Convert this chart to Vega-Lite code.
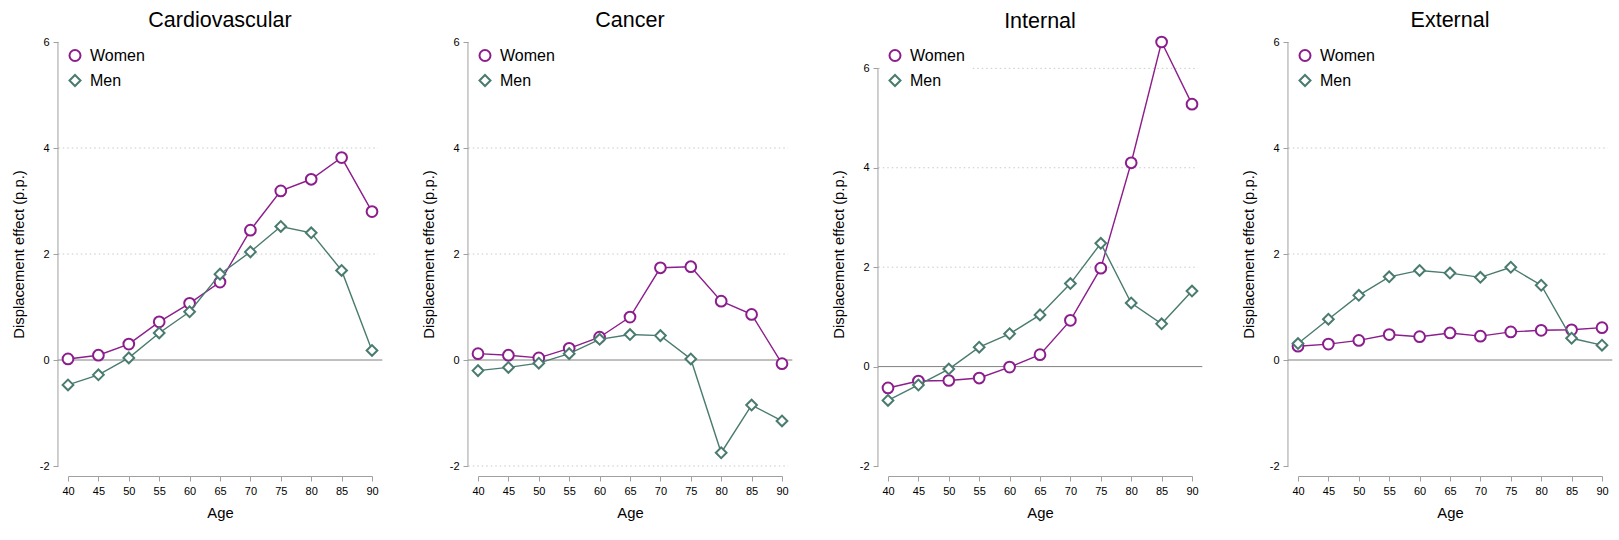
{
  "$schema": "https://vega.github.io/schema/vega-lite/v6.json",
  "padding": {"left": 11, "top": 10, "right": 5, "bottom": 5},
  "background": "white",
  "bounds": "flush",
  "config": {
    "font": "Liberation Sans",
    "view": {"stroke": null},
    "concat": {"spacing": 106},
    "title": {"fontSize": 21.5, "fontWeight": "normal", "color": "black", "frame": "group", "anchor": "middle", "baseline": "alphabetic", "offset": 4.5},
    "axis": {"grid": false, "labelFontSize": 11, "labelColor": "black", "labelOverlap": false, "labelExpr": "'' + datum.value", "titleFontSize": 14.8, "titleFontWeight": "normal", "titleColor": "black", "tickColor": "#a0a0a0", "domainColor": "#a0a0a0", "tickSize": 5, "offset": 10},
    "axisX": {"labelOverlap": false, "labelBound": false, "labelFlush": false},
    "legend": {"title": null, "orient": "none", "legendX": -8, "legendY": -1.5, "labelFontSize": 16, "labelColor": "black", "symbolSize": 121, "symbolStrokeWidth": 2, "symbolFillColor": "white", "rowPadding": 5, "labelOffset": 7, "padding": 7, "fillColor": "white"}
  },
  "datasets": {
    "effects": [
      {"cause": "Cardiovascular", "sex": "Women", "age": 40, "effect": 0.02},
      {"cause": "Cardiovascular", "sex": "Women", "age": 45, "effect": 0.09},
      {"cause": "Cardiovascular", "sex": "Women", "age": 50, "effect": 0.30},
      {"cause": "Cardiovascular", "sex": "Women", "age": 55, "effect": 0.72},
      {"cause": "Cardiovascular", "sex": "Women", "age": 60, "effect": 1.07},
      {"cause": "Cardiovascular", "sex": "Women", "age": 65, "effect": 1.47},
      {"cause": "Cardiovascular", "sex": "Women", "age": 70, "effect": 2.45},
      {"cause": "Cardiovascular", "sex": "Women", "age": 75, "effect": 3.19},
      {"cause": "Cardiovascular", "sex": "Women", "age": 80, "effect": 3.41},
      {"cause": "Cardiovascular", "sex": "Women", "age": 85, "effect": 3.82},
      {"cause": "Cardiovascular", "sex": "Women", "age": 90, "effect": 2.80},
      {"cause": "Cardiovascular", "sex": "Men", "age": 40, "effect": -0.47},
      {"cause": "Cardiovascular", "sex": "Men", "age": 45, "effect": -0.28},
      {"cause": "Cardiovascular", "sex": "Men", "age": 50, "effect": 0.04},
      {"cause": "Cardiovascular", "sex": "Men", "age": 55, "effect": 0.51},
      {"cause": "Cardiovascular", "sex": "Men", "age": 60, "effect": 0.91},
      {"cause": "Cardiovascular", "sex": "Men", "age": 65, "effect": 1.62},
      {"cause": "Cardiovascular", "sex": "Men", "age": 70, "effect": 2.04},
      {"cause": "Cardiovascular", "sex": "Men", "age": 75, "effect": 2.52},
      {"cause": "Cardiovascular", "sex": "Men", "age": 80, "effect": 2.40},
      {"cause": "Cardiovascular", "sex": "Men", "age": 85, "effect": 1.69},
      {"cause": "Cardiovascular", "sex": "Men", "age": 90, "effect": 0.18},
      {"cause": "Cancer", "sex": "Women", "age": 40, "effect": 0.12},
      {"cause": "Cancer", "sex": "Women", "age": 45, "effect": 0.09},
      {"cause": "Cancer", "sex": "Women", "age": 50, "effect": 0.04},
      {"cause": "Cancer", "sex": "Women", "age": 55, "effect": 0.22},
      {"cause": "Cancer", "sex": "Women", "age": 60, "effect": 0.43},
      {"cause": "Cancer", "sex": "Women", "age": 65, "effect": 0.81},
      {"cause": "Cancer", "sex": "Women", "age": 70, "effect": 1.74},
      {"cause": "Cancer", "sex": "Women", "age": 75, "effect": 1.76},
      {"cause": "Cancer", "sex": "Women", "age": 80, "effect": 1.11},
      {"cause": "Cancer", "sex": "Women", "age": 85, "effect": 0.86},
      {"cause": "Cancer", "sex": "Women", "age": 90, "effect": -0.07},
      {"cause": "Cancer", "sex": "Men", "age": 40, "effect": -0.20},
      {"cause": "Cancer", "sex": "Men", "age": 45, "effect": -0.14},
      {"cause": "Cancer", "sex": "Men", "age": 50, "effect": -0.06},
      {"cause": "Cancer", "sex": "Men", "age": 55, "effect": 0.12},
      {"cause": "Cancer", "sex": "Men", "age": 60, "effect": 0.39},
      {"cause": "Cancer", "sex": "Men", "age": 65, "effect": 0.48},
      {"cause": "Cancer", "sex": "Men", "age": 70, "effect": 0.46},
      {"cause": "Cancer", "sex": "Men", "age": 75, "effect": 0.02},
      {"cause": "Cancer", "sex": "Men", "age": 80, "effect": -1.75},
      {"cause": "Cancer", "sex": "Men", "age": 85, "effect": -0.85},
      {"cause": "Cancer", "sex": "Men", "age": 90, "effect": -1.15},
      {"cause": "Internal", "sex": "Women", "age": 40, "effect": -0.43},
      {"cause": "Internal", "sex": "Women", "age": 45, "effect": -0.29},
      {"cause": "Internal", "sex": "Women", "age": 50, "effect": -0.28},
      {"cause": "Internal", "sex": "Women", "age": 55, "effect": -0.23},
      {"cause": "Internal", "sex": "Women", "age": 60, "effect": -0.01},
      {"cause": "Internal", "sex": "Women", "age": 65, "effect": 0.24},
      {"cause": "Internal", "sex": "Women", "age": 70, "effect": 0.93},
      {"cause": "Internal", "sex": "Women", "age": 75, "effect": 1.98},
      {"cause": "Internal", "sex": "Women", "age": 80, "effect": 4.10},
      {"cause": "Internal", "sex": "Women", "age": 85, "effect": 6.53},
      {"cause": "Internal", "sex": "Women", "age": 90, "effect": 5.28},
      {"cause": "Internal", "sex": "Men", "age": 40, "effect": -0.68},
      {"cause": "Internal", "sex": "Men", "age": 45, "effect": -0.37},
      {"cause": "Internal", "sex": "Men", "age": 50, "effect": -0.05},
      {"cause": "Internal", "sex": "Men", "age": 55, "effect": 0.39},
      {"cause": "Internal", "sex": "Men", "age": 60, "effect": 0.66},
      {"cause": "Internal", "sex": "Men", "age": 65, "effect": 1.04},
      {"cause": "Internal", "sex": "Men", "age": 70, "effect": 1.67},
      {"cause": "Internal", "sex": "Men", "age": 75, "effect": 2.48},
      {"cause": "Internal", "sex": "Men", "age": 80, "effect": 1.28},
      {"cause": "Internal", "sex": "Men", "age": 85, "effect": 0.86},
      {"cause": "Internal", "sex": "Men", "age": 90, "effect": 1.52},
      {"cause": "External", "sex": "Women", "age": 40, "effect": 0.26},
      {"cause": "External", "sex": "Women", "age": 45, "effect": 0.30},
      {"cause": "External", "sex": "Women", "age": 50, "effect": 0.37},
      {"cause": "External", "sex": "Women", "age": 55, "effect": 0.48},
      {"cause": "External", "sex": "Women", "age": 60, "effect": 0.44},
      {"cause": "External", "sex": "Women", "age": 65, "effect": 0.51},
      {"cause": "External", "sex": "Women", "age": 70, "effect": 0.45},
      {"cause": "External", "sex": "Women", "age": 75, "effect": 0.53},
      {"cause": "External", "sex": "Women", "age": 80, "effect": 0.56},
      {"cause": "External", "sex": "Women", "age": 85, "effect": 0.57},
      {"cause": "External", "sex": "Women", "age": 90, "effect": 0.61},
      {"cause": "External", "sex": "Men", "age": 40, "effect": 0.31},
      {"cause": "External", "sex": "Men", "age": 45, "effect": 0.77},
      {"cause": "External", "sex": "Men", "age": 50, "effect": 1.22},
      {"cause": "External", "sex": "Men", "age": 55, "effect": 1.57},
      {"cause": "External", "sex": "Men", "age": 60, "effect": 1.69},
      {"cause": "External", "sex": "Men", "age": 65, "effect": 1.64},
      {"cause": "External", "sex": "Men", "age": 70, "effect": 1.56},
      {"cause": "External", "sex": "Men", "age": 75, "effect": 1.75},
      {"cause": "External", "sex": "Men", "age": 80, "effect": 1.41},
      {"cause": "External", "sex": "Men", "age": 85, "effect": 0.41},
      {"cause": "External", "sex": "Men", "age": 90, "effect": 0.28}
    ]
  },
  "resolve": {
    "scale": {"color": "independent", "shape": "independent", "y": "independent", "x": "independent"},
    "legend": {"color": "independent", "shape": "independent"}
  },
  "hconcat": [
    {
      "width": 304, "height": 424,
      "title": {"text": "Cardiovascular"},
      "layer": [
        {"data": {"values": [{}]}, "mark": {"type": "rule", "color": "#c8c8c8", "strokeDash": [1.5, 3]}, "encoding": {
          "x": {"datum": 38.4, "type": "quantitative", "scale": {"domain": [40, 90], "nice": false, "zero": false}, "axis": {"values": [40, 45, 50, 55, 60, 65, 70, 75, 80, 85, 90], "labelOverlap": false, "title": "Age", "titlePadding": 9, "labelPadding": 4}},
          "x2": {"datum": 91},
          "y": {"datum": 4, "type": "quantitative", "scale": {"domain": [-2, 6], "nice": false, "zero": false}, "axis": {"values": [-2, 0, 2, 4, 6], "domain": false, "title": "Displacement effect (p.p.)", "titlePadding": 13, "labelPadding": 4}}}},
        {"data": {"values": [{}]}, "mark": {"type": "rule", "color": "#c8c8c8", "strokeDash": [1.5, 3]}, "encoding": {
          "x": {"datum": 38.4, "type": "quantitative", "scale": {"domain": [40, 90], "nice": false, "zero": false}, "axis": {"values": [40, 45, 50, 55, 60, 65, 70, 75, 80, 85, 90], "labelOverlap": false, "title": "Age", "titlePadding": 9, "labelPadding": 4}},
          "x2": {"datum": 91},
          "y": {"datum": 2, "type": "quantitative", "scale": {"domain": [-2, 6], "nice": false, "zero": false}, "axis": {"values": [-2, 0, 2, 4, 6], "domain": false, "title": "Displacement effect (p.p.)", "titlePadding": 13, "labelPadding": 4}}}},
        {"data": {"values": [{}]}, "mark": {"type": "rule", "color": "#808080", "strokeWidth": 1}, "encoding": {
          "x": {"datum": 38.35, "type": "quantitative", "scale": {"domain": [40, 90], "nice": false, "zero": false}, "axis": {"values": [40, 45, 50, 55, 60, 65, 70, 75, 80, 85, 90], "labelOverlap": false, "title": "Age", "titlePadding": 9, "labelPadding": 4}},
          "x2": {"datum": 91.7},
          "y": {"datum": 0, "type": "quantitative", "scale": {"domain": [-2, 6], "nice": false, "zero": false}, "axis": {"values": [-2, 0, 2, 4, 6], "domain": false, "title": "Displacement effect (p.p.)", "titlePadding": 13, "labelPadding": 4}}}},
        {"data": {"values": [{}]}, "mark": {"type": "rule", "color": "#a0a0a0", "strokeWidth": 1}, "encoding": {
          "x": {"datum": 38.35, "type": "quantitative", "scale": {"domain": [40, 90], "nice": false, "zero": false}, "axis": {"values": [40, 45, 50, 55, 60, 65, 70, 75, 80, 85, 90], "labelOverlap": false, "title": "Age", "titlePadding": 9, "labelPadding": 4}},
          "y": {"datum": -2, "type": "quantitative", "scale": {"domain": [-2, 6], "nice": false, "zero": false}, "axis": {"values": [-2, 0, 2, 4, 6], "domain": false, "title": "Displacement effect (p.p.)", "titlePadding": 13, "labelPadding": 4}},
          "y2": {"datum": 6}}},
        {
          "data": {"name": "effects"},
          "transform": [{"filter": "datum.cause === 'Cardiovascular'"}],
          "encoding": {
            "x": {"field": "age", "type": "quantitative", "scale": {"domain": [40, 90], "nice": false, "zero": false}, "axis": {"values": [40, 45, 50, 55, 60, 65, 70, 75, 80, 85, 90], "labelOverlap": false, "title": "Age", "titlePadding": 9, "labelPadding": 4}},
            "y": {"field": "effect", "type": "quantitative", "scale": {"domain": [-2, 6], "nice": false, "zero": false}, "axis": {"values": [-2, 0, 2, 4, 6], "domain": false, "title": "Displacement effect (p.p.)", "titlePadding": 13, "labelPadding": 4}}
          },
          "layer": [
            {"transform": [{"filter": "datum.sex === 'Women'"}], "mark": {"type": "line", "color": "#8C1D8C", "strokeWidth": 1.4}},
            {"transform": [{"filter": "datum.sex === 'Women'"}], "mark": {"type": "point", "filled": false, "fill": "white", "size": 115, "strokeWidth": 2, "opacity": 1},
             "encoding": {
               "color": {"field": "sex", "type": "nominal", "scale": {"domain": ["Women", "Men"], "range": ["#8C1D8C", "#4A7B6F"]}},
               "shape": {"field": "sex", "type": "nominal", "scale": {"domain": ["Women", "Men"], "range": ["circle", "diamond"]}}}},
            {"transform": [{"filter": "datum.sex === 'Men'"}], "mark": {"type": "line", "color": "#4A7B6F", "strokeWidth": 1.4}},
            {"transform": [{"filter": "datum.sex === 'Men'"}], "mark": {"type": "point", "filled": false, "fill": "white", "size": 115, "strokeWidth": 2, "opacity": 1},
             "encoding": {
               "color": {"field": "sex", "type": "nominal", "scale": {"domain": ["Women", "Men"], "range": ["#8C1D8C", "#4A7B6F"]}},
               "shape": {"field": "sex", "type": "nominal", "scale": {"domain": ["Women", "Men"], "range": ["circle", "diamond"]}}}}
          ]
        }
      ]
    },
    {
      "width": 304, "height": 424,
      "title": {"text": "Cancer"},
      "layer": [
        {"data": {"values": [{}]}, "mark": {"type": "rule", "color": "#c8c8c8", "strokeDash": [1.5, 3]}, "encoding": {
          "x": {"datum": 38.4, "type": "quantitative", "scale": {"domain": [40, 90], "nice": false, "zero": false}, "axis": {"values": [40, 45, 50, 55, 60, 65, 70, 75, 80, 85, 90], "labelOverlap": false, "title": "Age", "titlePadding": 9, "labelPadding": 4}},
          "x2": {"datum": 91},
          "y": {"datum": 4, "type": "quantitative", "scale": {"domain": [-2, 6], "nice": false, "zero": false}, "axis": {"values": [-2, 0, 2, 4, 6], "domain": false, "title": "Displacement effect (p.p.)", "titlePadding": 13, "labelPadding": 4}}}},
        {"data": {"values": [{}]}, "mark": {"type": "rule", "color": "#c8c8c8", "strokeDash": [1.5, 3]}, "encoding": {
          "x": {"datum": 38.4, "type": "quantitative", "scale": {"domain": [40, 90], "nice": false, "zero": false}, "axis": {"values": [40, 45, 50, 55, 60, 65, 70, 75, 80, 85, 90], "labelOverlap": false, "title": "Age", "titlePadding": 9, "labelPadding": 4}},
          "x2": {"datum": 91},
          "y": {"datum": 2, "type": "quantitative", "scale": {"domain": [-2, 6], "nice": false, "zero": false}, "axis": {"values": [-2, 0, 2, 4, 6], "domain": false, "title": "Displacement effect (p.p.)", "titlePadding": 13, "labelPadding": 4}}}},
        {"data": {"values": [{}]}, "mark": {"type": "rule", "color": "#c8c8c8", "strokeDash": [1.5, 3]}, "encoding": {
          "x": {"datum": 38.4, "type": "quantitative", "scale": {"domain": [40, 90], "nice": false, "zero": false}, "axis": {"values": [40, 45, 50, 55, 60, 65, 70, 75, 80, 85, 90], "labelOverlap": false, "title": "Age", "titlePadding": 9, "labelPadding": 4}},
          "x2": {"datum": 91},
          "y": {"datum": -2, "type": "quantitative", "scale": {"domain": [-2, 6], "nice": false, "zero": false}, "axis": {"values": [-2, 0, 2, 4, 6], "domain": false, "title": "Displacement effect (p.p.)", "titlePadding": 13, "labelPadding": 4}}}},
        {"data": {"values": [{}]}, "mark": {"type": "rule", "color": "#808080", "strokeWidth": 1}, "encoding": {
          "x": {"datum": 38.35, "type": "quantitative", "scale": {"domain": [40, 90], "nice": false, "zero": false}, "axis": {"values": [40, 45, 50, 55, 60, 65, 70, 75, 80, 85, 90], "labelOverlap": false, "title": "Age", "titlePadding": 9, "labelPadding": 4}},
          "x2": {"datum": 91.7},
          "y": {"datum": 0, "type": "quantitative", "scale": {"domain": [-2, 6], "nice": false, "zero": false}, "axis": {"values": [-2, 0, 2, 4, 6], "domain": false, "title": "Displacement effect (p.p.)", "titlePadding": 13, "labelPadding": 4}}}},
        {"data": {"values": [{}]}, "mark": {"type": "rule", "color": "#a0a0a0", "strokeWidth": 1}, "encoding": {
          "x": {"datum": 38.35, "type": "quantitative", "scale": {"domain": [40, 90], "nice": false, "zero": false}, "axis": {"values": [40, 45, 50, 55, 60, 65, 70, 75, 80, 85, 90], "labelOverlap": false, "title": "Age", "titlePadding": 9, "labelPadding": 4}},
          "y": {"datum": -2, "type": "quantitative", "scale": {"domain": [-2, 6], "nice": false, "zero": false}, "axis": {"values": [-2, 0, 2, 4, 6], "domain": false, "title": "Displacement effect (p.p.)", "titlePadding": 13, "labelPadding": 4}},
          "y2": {"datum": 6}}},
        {
          "data": {"name": "effects"},
          "transform": [{"filter": "datum.cause === 'Cancer'"}],
          "encoding": {
            "x": {"field": "age", "type": "quantitative", "scale": {"domain": [40, 90], "nice": false, "zero": false}, "axis": {"values": [40, 45, 50, 55, 60, 65, 70, 75, 80, 85, 90], "labelOverlap": false, "title": "Age", "titlePadding": 9, "labelPadding": 4}},
            "y": {"field": "effect", "type": "quantitative", "scale": {"domain": [-2, 6], "nice": false, "zero": false}, "axis": {"values": [-2, 0, 2, 4, 6], "domain": false, "title": "Displacement effect (p.p.)", "titlePadding": 13, "labelPadding": 4}}
          },
          "layer": [
            {"transform": [{"filter": "datum.sex === 'Women'"}], "mark": {"type": "line", "color": "#8C1D8C", "strokeWidth": 1.4}},
            {"transform": [{"filter": "datum.sex === 'Women'"}], "mark": {"type": "point", "filled": false, "fill": "white", "size": 115, "strokeWidth": 2, "opacity": 1},
             "encoding": {
               "color": {"field": "sex", "type": "nominal", "scale": {"domain": ["Women", "Men"], "range": ["#8C1D8C", "#4A7B6F"]}},
               "shape": {"field": "sex", "type": "nominal", "scale": {"domain": ["Women", "Men"], "range": ["circle", "diamond"]}}}},
            {"transform": [{"filter": "datum.sex === 'Men'"}], "mark": {"type": "line", "color": "#4A7B6F", "strokeWidth": 1.4}},
            {"transform": [{"filter": "datum.sex === 'Men'"}], "mark": {"type": "point", "filled": false, "fill": "white", "size": 115, "strokeWidth": 2, "opacity": 1},
             "encoding": {
               "color": {"field": "sex", "type": "nominal", "scale": {"domain": ["Women", "Men"], "range": ["#8C1D8C", "#4A7B6F"]}},
               "shape": {"field": "sex", "type": "nominal", "scale": {"domain": ["Women", "Men"], "range": ["circle", "diamond"]}}}}
          ]
        }
      ]
    },
    {
      "width": 304, "height": 424,
      "title": {"text": "Internal", "offset": 0},
      "layer": [
        {"data": {"values": [{}]}, "mark": {"type": "rule", "color": "#c8c8c8", "strokeDash": [1.5, 3]}, "encoding": {
          "x": {"datum": 38.4, "type": "quantitative", "scale": {"domain": [40, 90], "nice": false, "zero": false}, "axis": {"values": [40, 45, 50, 55, 60, 65, 70, 75, 80, 85, 90], "labelOverlap": false, "title": "Age", "titlePadding": 9, "labelPadding": 4}},
          "x2": {"datum": 91},
          "y": {"datum": 6, "type": "quantitative", "scale": {"domain": [-2, 6.53], "nice": false, "zero": false}, "axis": {"values": [-2, 0, 2, 4, 6], "domain": false, "title": "Displacement effect (p.p.)", "titlePadding": 13, "labelPadding": 4}}}},
        {"data": {"values": [{}]}, "mark": {"type": "rule", "color": "#c8c8c8", "strokeDash": [1.5, 3]}, "encoding": {
          "x": {"datum": 38.4, "type": "quantitative", "scale": {"domain": [40, 90], "nice": false, "zero": false}, "axis": {"values": [40, 45, 50, 55, 60, 65, 70, 75, 80, 85, 90], "labelOverlap": false, "title": "Age", "titlePadding": 9, "labelPadding": 4}},
          "x2": {"datum": 91},
          "y": {"datum": 4, "type": "quantitative", "scale": {"domain": [-2, 6.53], "nice": false, "zero": false}, "axis": {"values": [-2, 0, 2, 4, 6], "domain": false, "title": "Displacement effect (p.p.)", "titlePadding": 13, "labelPadding": 4}}}},
        {"data": {"values": [{}]}, "mark": {"type": "rule", "color": "#c8c8c8", "strokeDash": [1.5, 3]}, "encoding": {
          "x": {"datum": 38.4, "type": "quantitative", "scale": {"domain": [40, 90], "nice": false, "zero": false}, "axis": {"values": [40, 45, 50, 55, 60, 65, 70, 75, 80, 85, 90], "labelOverlap": false, "title": "Age", "titlePadding": 9, "labelPadding": 4}},
          "x2": {"datum": 91},
          "y": {"datum": 2, "type": "quantitative", "scale": {"domain": [-2, 6.53], "nice": false, "zero": false}, "axis": {"values": [-2, 0, 2, 4, 6], "domain": false, "title": "Displacement effect (p.p.)", "titlePadding": 13, "labelPadding": 4}}}},
        {"data": {"values": [{}]}, "mark": {"type": "rule", "color": "#808080", "strokeWidth": 1}, "encoding": {
          "x": {"datum": 38.35, "type": "quantitative", "scale": {"domain": [40, 90], "nice": false, "zero": false}, "axis": {"values": [40, 45, 50, 55, 60, 65, 70, 75, 80, 85, 90], "labelOverlap": false, "title": "Age", "titlePadding": 9, "labelPadding": 4}},
          "x2": {"datum": 91.7},
          "y": {"datum": 0, "type": "quantitative", "scale": {"domain": [-2, 6.53], "nice": false, "zero": false}, "axis": {"values": [-2, 0, 2, 4, 6], "domain": false, "title": "Displacement effect (p.p.)", "titlePadding": 13, "labelPadding": 4}}}},
        {"data": {"values": [{}]}, "mark": {"type": "rule", "color": "#a0a0a0", "strokeWidth": 1}, "encoding": {
          "x": {"datum": 38.35, "type": "quantitative", "scale": {"domain": [40, 90], "nice": false, "zero": false}, "axis": {"values": [40, 45, 50, 55, 60, 65, 70, 75, 80, 85, 90], "labelOverlap": false, "title": "Age", "titlePadding": 9, "labelPadding": 4}},
          "y": {"datum": -2, "type": "quantitative", "scale": {"domain": [-2, 6.53], "nice": false, "zero": false}, "axis": {"values": [-2, 0, 2, 4, 6], "domain": false, "title": "Displacement effect (p.p.)", "titlePadding": 13, "labelPadding": 4}},
          "y2": {"datum": 6}}},
        {
          "data": {"name": "effects"},
          "transform": [{"filter": "datum.cause === 'Internal'"}],
          "encoding": {
            "x": {"field": "age", "type": "quantitative", "scale": {"domain": [40, 90], "nice": false, "zero": false}, "axis": {"values": [40, 45, 50, 55, 60, 65, 70, 75, 80, 85, 90], "labelOverlap": false, "title": "Age", "titlePadding": 9, "labelPadding": 4}},
            "y": {"field": "effect", "type": "quantitative", "scale": {"domain": [-2, 6.53], "nice": false, "zero": false}, "axis": {"values": [-2, 0, 2, 4, 6], "domain": false, "title": "Displacement effect (p.p.)", "titlePadding": 13, "labelPadding": 4}}
          },
          "layer": [
            {"transform": [{"filter": "datum.sex === 'Women'"}], "mark": {"type": "line", "color": "#8C1D8C", "strokeWidth": 1.4}},
            {"transform": [{"filter": "datum.sex === 'Women'"}], "mark": {"type": "point", "filled": false, "fill": "white", "size": 115, "strokeWidth": 2, "opacity": 1},
             "encoding": {
               "color": {"field": "sex", "type": "nominal", "scale": {"domain": ["Women", "Men"], "range": ["#8C1D8C", "#4A7B6F"]}},
               "shape": {"field": "sex", "type": "nominal", "scale": {"domain": ["Women", "Men"], "range": ["circle", "diamond"]}}}},
            {"transform": [{"filter": "datum.sex === 'Men'"}], "mark": {"type": "line", "color": "#4A7B6F", "strokeWidth": 1.4}},
            {"transform": [{"filter": "datum.sex === 'Men'"}], "mark": {"type": "point", "filled": false, "fill": "white", "size": 115, "strokeWidth": 2, "opacity": 1},
             "encoding": {
               "color": {"field": "sex", "type": "nominal", "scale": {"domain": ["Women", "Men"], "range": ["#8C1D8C", "#4A7B6F"]}},
               "shape": {"field": "sex", "type": "nominal", "scale": {"domain": ["Women", "Men"], "range": ["circle", "diamond"]}}}}
          ]
        }
      ]
    },
    {
      "width": 304, "height": 424,
      "title": {"text": "External"},
      "layer": [
        {"data": {"values": [{}]}, "mark": {"type": "rule", "color": "#c8c8c8", "strokeDash": [1.5, 3]}, "encoding": {
          "x": {"datum": 38.4, "type": "quantitative", "scale": {"domain": [40, 90], "nice": false, "zero": false}, "axis": {"values": [40, 45, 50, 55, 60, 65, 70, 75, 80, 85, 90], "labelOverlap": false, "title": "Age", "titlePadding": 9, "labelPadding": 4}},
          "x2": {"datum": 91},
          "y": {"datum": 4, "type": "quantitative", "scale": {"domain": [-2, 6], "nice": false, "zero": false}, "axis": {"values": [-2, 0, 2, 4, 6], "domain": false, "title": "Displacement effect (p.p.)", "titlePadding": 13, "labelPadding": 4}}}},
        {"data": {"values": [{}]}, "mark": {"type": "rule", "color": "#c8c8c8", "strokeDash": [1.5, 3]}, "encoding": {
          "x": {"datum": 38.4, "type": "quantitative", "scale": {"domain": [40, 90], "nice": false, "zero": false}, "axis": {"values": [40, 45, 50, 55, 60, 65, 70, 75, 80, 85, 90], "labelOverlap": false, "title": "Age", "titlePadding": 9, "labelPadding": 4}},
          "x2": {"datum": 91},
          "y": {"datum": 2, "type": "quantitative", "scale": {"domain": [-2, 6], "nice": false, "zero": false}, "axis": {"values": [-2, 0, 2, 4, 6], "domain": false, "title": "Displacement effect (p.p.)", "titlePadding": 13, "labelPadding": 4}}}},
        {"data": {"values": [{}]}, "mark": {"type": "rule", "color": "#808080", "strokeWidth": 1}, "encoding": {
          "x": {"datum": 38.35, "type": "quantitative", "scale": {"domain": [40, 90], "nice": false, "zero": false}, "axis": {"values": [40, 45, 50, 55, 60, 65, 70, 75, 80, 85, 90], "labelOverlap": false, "title": "Age", "titlePadding": 9, "labelPadding": 4}},
          "x2": {"datum": 91.7},
          "y": {"datum": 0, "type": "quantitative", "scale": {"domain": [-2, 6], "nice": false, "zero": false}, "axis": {"values": [-2, 0, 2, 4, 6], "domain": false, "title": "Displacement effect (p.p.)", "titlePadding": 13, "labelPadding": 4}}}},
        {"data": {"values": [{}]}, "mark": {"type": "rule", "color": "#a0a0a0", "strokeWidth": 1}, "encoding": {
          "x": {"datum": 38.35, "type": "quantitative", "scale": {"domain": [40, 90], "nice": false, "zero": false}, "axis": {"values": [40, 45, 50, 55, 60, 65, 70, 75, 80, 85, 90], "labelOverlap": false, "title": "Age", "titlePadding": 9, "labelPadding": 4}},
          "y": {"datum": -2, "type": "quantitative", "scale": {"domain": [-2, 6], "nice": false, "zero": false}, "axis": {"values": [-2, 0, 2, 4, 6], "domain": false, "title": "Displacement effect (p.p.)", "titlePadding": 13, "labelPadding": 4}},
          "y2": {"datum": 6}}},
        {
          "data": {"name": "effects"},
          "transform": [{"filter": "datum.cause === 'External'"}],
          "encoding": {
            "x": {"field": "age", "type": "quantitative", "scale": {"domain": [40, 90], "nice": false, "zero": false}, "axis": {"values": [40, 45, 50, 55, 60, 65, 70, 75, 80, 85, 90], "labelOverlap": false, "title": "Age", "titlePadding": 9, "labelPadding": 4}},
            "y": {"field": "effect", "type": "quantitative", "scale": {"domain": [-2, 6], "nice": false, "zero": false}, "axis": {"values": [-2, 0, 2, 4, 6], "domain": false, "title": "Displacement effect (p.p.)", "titlePadding": 13, "labelPadding": 4}}
          },
          "layer": [
            {"transform": [{"filter": "datum.sex === 'Women'"}], "mark": {"type": "line", "color": "#8C1D8C", "strokeWidth": 1.4}},
            {"transform": [{"filter": "datum.sex === 'Women'"}], "mark": {"type": "point", "filled": false, "fill": "white", "size": 115, "strokeWidth": 2, "opacity": 1},
             "encoding": {
               "color": {"field": "sex", "type": "nominal", "scale": {"domain": ["Women", "Men"], "range": ["#8C1D8C", "#4A7B6F"]}},
               "shape": {"field": "sex", "type": "nominal", "scale": {"domain": ["Women", "Men"], "range": ["circle", "diamond"]}}}},
            {"transform": [{"filter": "datum.sex === 'Men'"}], "mark": {"type": "line", "color": "#4A7B6F", "strokeWidth": 1.4}},
            {"transform": [{"filter": "datum.sex === 'Men'"}], "mark": {"type": "point", "filled": false, "fill": "white", "size": 115, "strokeWidth": 2, "opacity": 1},
             "encoding": {
               "color": {"field": "sex", "type": "nominal", "scale": {"domain": ["Women", "Men"], "range": ["#8C1D8C", "#4A7B6F"]}},
               "shape": {"field": "sex", "type": "nominal", "scale": {"domain": ["Women", "Men"], "range": ["circle", "diamond"]}}}}
          ]
        }
      ]
    }
  ]
}
